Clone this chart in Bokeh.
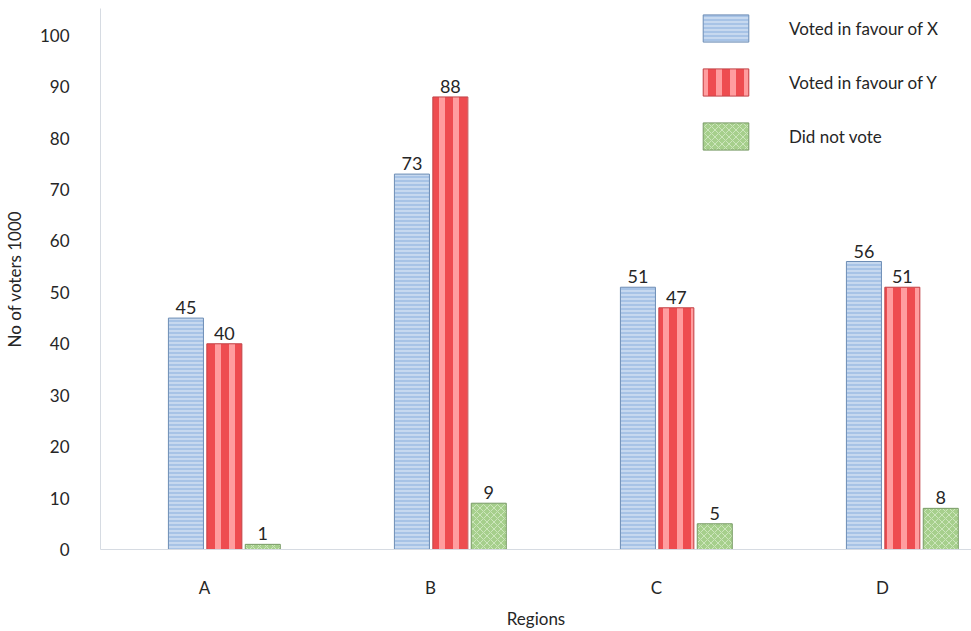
from bokeh.plotting import figure
from bokeh.models import ColumnDataSource, Range1d, Legend, LegendItem, FixedTicker
from bokeh.embed import file_html
from bokeh.resources import INLINE

# Survey data (in thousands of voters)
regions = ["A", "B", "C", "D"]
voted_x = [45, 73, 51, 56]
voted_y = [40, 88, 47, 51]
did_not_vote = [1, 9, 5, 8]
y_ticks = [0, 10, 20, 30, 40, 50, 60, 70, 80, 90, 100]

FONT = "Lato"
idx = list(range(len(regions)))

p = figure(
    width=971, height=631,
    x_range=Range1d(-0.46, 3.394),
    y_range=Range1d(0, 105.2),
    output_backend="svg", toolbar_location=None,
    min_border_left=100, min_border_right=0, min_border_top=8, min_border_bottom=81,
)
p.outline_line_color = None
p.grid.visible = False
p.background_fill_color = "white"
p.border_fill_color = "white"

bar_w = 0.155
series = [
    ("Voted in favour of X", voted_x, -0.082,
     dict(fill_color="#a7c3e6", line_color="#6d8db5", hatch_pattern="horizontal_line",
          hatch_color="#e6eef8", hatch_scale=4, hatch_weight=1)),
    ("Voted in favour of Y", voted_y, 0.088,
     dict(fill_color="#ee4c50", line_color="#c24448", hatch_pattern="vertical_line",
          hatch_color="#ff9d9f", hatch_scale=14, hatch_weight=6)),
    ("Did not vote", did_not_vote, 0.258,
     dict(fill_color="#a6cf8c", line_color="#789a66", hatch_pattern="diagonal_cross",
          hatch_color="#cde6bc", hatch_scale=7, hatch_weight=1)),
]

items = []
for name, vals, off, style in series:
    src = ColumnDataSource(dict(x=[i + off for i in idx], top=vals,
                                label=[str(v) for v in vals]))
    r = p.vbar(x="x", top="top", width=bar_w, source=src, line_width=1, **style)
    p.text(x="x", y="top", text="label", source=src, text_align="center",
           text_baseline="bottom", y_offset=-4, text_font_size="18px",
           text_color="#262626", text_font={"value": FONT})
    items.append(LegendItem(label=name, renderers=[r]))

legend = Legend(items=items, location=(597, 396), orientation="vertical",
                glyph_width=57, glyph_height=34, spacing=20, label_standoff=35,
                padding=0, margin=0, border_line_alpha=0, background_fill_alpha=0,
                label_text_font=FONT, label_text_font_size="17px",
                label_text_color="#262626")
p.add_layout(legend, "center")

# Y axis
p.yaxis.ticker = FixedTicker(ticks=y_ticks)
p.yaxis.axis_label = "No of voters 1000"
p.yaxis.axis_line_color = "#d6dbe2"
p.yaxis.major_tick_line_color = None
p.yaxis.minor_tick_line_color = None
p.yaxis.major_label_standoff = 25
p.yaxis.axis_label_standoff = 12
p.yaxis.major_label_text_font = FONT
p.yaxis.major_label_text_font_size = "17px"
p.yaxis.major_label_text_color = "#262626"
p.yaxis.axis_label_text_font = FONT
p.yaxis.axis_label_text_font_size = "17px"
p.yaxis.axis_label_text_font_style = "normal"
p.yaxis.axis_label_text_color = "#262626"

# X axis
p.xaxis.ticker = FixedTicker(ticks=idx)
p.xaxis.major_label_overrides = {i: r for i, r in zip(idx, regions)}
p.xaxis.axis_label = "Regions"
p.xaxis.axis_line_color = "#d6dbe2"
p.xaxis.major_tick_line_color = None
p.xaxis.minor_tick_line_color = None
p.xaxis.major_label_standoff = 21
p.xaxis.axis_label_standoff = 7
p.xaxis.major_label_text_font = FONT
p.xaxis.major_label_text_font_size = "17px"
p.xaxis.major_label_text_color = "#262626"
p.xaxis.axis_label_text_font = FONT
p.xaxis.axis_label_text_font_size = "17px"
p.xaxis.axis_label_text_font_style = "normal"
p.xaxis.axis_label_text_color = "#262626"

open("out.html", "w").write(file_html(p, INLINE))
